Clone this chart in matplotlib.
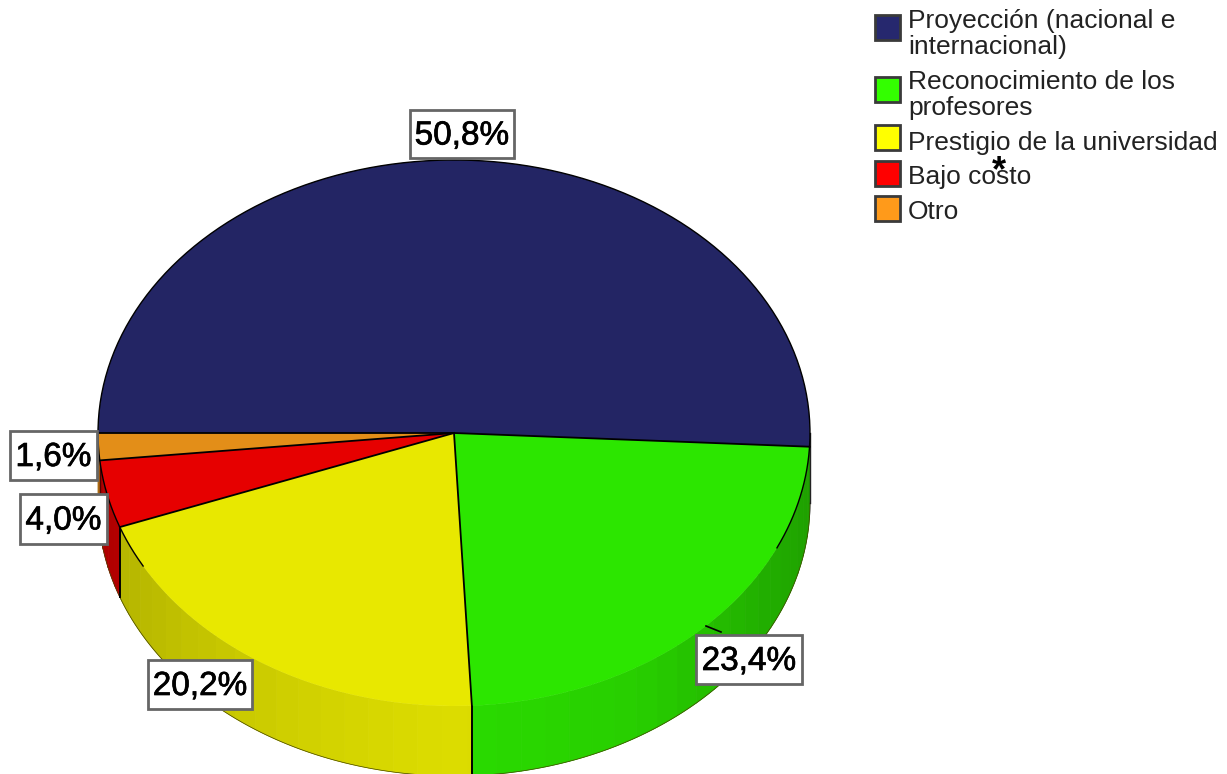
import numpy as np
import matplotlib
matplotlib.use("Agg")
import matplotlib.pyplot as plt
import matplotlib.patheffects as pe
from matplotlib.patches import Rectangle

plt.rcParams['font.family'] = ['Liberation Sans', 'DejaVu Sans']

categorias = ['Proyección (nacional e\ninternacional)', 'Reconocimiento de los\nprofesores',
              'Prestigio de la universidad', 'Bajo costo', 'Otro']
valores = [50.8, 23.4, 20.2, 4.0, 1.6]

colores = ['#232564', '#2ce600', '#e8e800', '#e60000', '#e38e18']
colores_leyenda = ['#26286e', '#33ff00', '#ffff00', '#ff0000', '#ff9a1a']

W, H = 1227, 774
CX, CY, RX, RY = 454, 433, 356, 273
DEPTH = 70 / RY

# cajas de las etiquetas en pixeles (x0, y0, x1, y1)
cajas = [(410, 110, 514, 158), (696, 635, 802, 684), (148, 660, 252, 709), (20, 494, 107, 544), (10, 431, 97, 480)]
pos_leyenda = [(887, 27), (887, 89), (887, 137), (887, 173), (887, 208)]
pos_texto = [(908, 9), (908, 70), (908, 131), (908, 165), (908, 200)]


def sombra(ang):
    # la pared es mas clara al frente (-90) y mas oscura hacia los lados
    return np.interp(ang, [-180, -150, -115, -90, -60, -30, 0], [0.74, 0.80, 0.90, 0.95, 0.90, 0.76, 0.68])


fig = plt.figure(figsize=(W / 100, H / 100), dpi=100)
ax = fig.add_axes([(CX - RX) / W, (H - CY - RY) / H, 2 * RX / W, 2 * RY / H])

limites = 180 - np.cumsum([0] + valores) * 3.6

# pared lateral
for i in range(len(valores)):
    fin, ini = limites[i], limites[i + 1]
    ini, fin = max(ini, -180), min(fin, 0)
    if fin <= ini:
        continue
    cortes = np.arange(ini, fin, 4.0)
    cortes = np.append(cortes, fin)
    base = np.array(matplotlib.colors.to_rgb(colores[i]))
    for a, b in zip(cortes[:-1], cortes[1:]):
        t = np.radians(np.linspace(a, b, 12))
        xs = np.r_[np.cos(t), np.cos(t)[::-1]]
        ys = np.r_[np.sin(t), np.sin(t)[::-1] - DEPTH]
        c = base * sombra((a + b) / 2)
        ax.fill(xs, ys, facecolor=c, edgecolor=c, lw=0.6, clip_on=False, zorder=1)
    t = np.radians(np.linspace(ini, fin, 60))
    ax.plot(np.cos(t), np.sin(t) - DEPTH, color='#444400', lw=0.5, clip_on=False, zorder=2)

# lineas verticales de la pared
for ang in limites[1:4]:
    r = np.radians(ang)
    if ang < -10:
        ax.plot([np.cos(r)] * 2, [np.sin(r), np.sin(r) - DEPTH], color='black', lw=1.4, clip_on=False, zorder=2)
ax.plot([1, 1], [0, -DEPTH], color='#222222', lw=1.0, clip_on=False, zorder=2)
r = np.radians(limites[4])
ax.plot([np.cos(r)] * 2, [np.sin(r), np.sin(r) - DEPTH], color='#550000', lw=1.0, clip_on=False, zorder=2)

# cara superior
wedges, _ = ax.pie(valores, colors=colores, startangle=180, counterclock=False, radius=1, frame=False,
                   wedgeprops={'linewidth': 0, 'zorder': 3})
ax.set_aspect('auto')
ax.set_xlim(-1, 1)
ax.set_ylim(-1, 1)
ax.axis('off')
for w in wedges:
    w.set_clip_on(False)

# radios y partes del borde que se ven en negro
for ang in limites[:5]:
    r = np.radians(ang)
    ax.plot([0, np.cos(r)], [0, np.sin(r)], color='black', lw=1.3, zorder=4, clip_on=False)
for a, b, lw in [(limites[1], 180, 1.0), (-180, limites[3], 1.0), (limites[3], limites[3] + 9, 1.0),
                 (limites[1] - 22, limites[1], 1.0)]:
    t = np.radians(np.linspace(a, b, 200))
    ax.plot(np.cos(t), np.sin(t), color='black', lw=lw, zorder=4, clip_on=False)

# capa en pixeles para etiquetas y leyenda
over = fig.add_axes([0, 0, 1, 1], zorder=5)
over.set_xlim(0, W)
over.set_ylim(H, 0)
over.axis('off')
over.patch.set_alpha(0)

over.plot([706, 721], [626, 632], color='black', lw=1.2)

for v, (x0, y0, x1, y1) in zip(valores, cajas):
    over.add_patch(Rectangle((x0, y0), x1 - x0, y1 - y0, facecolor='white', edgecolor='#666666', lw=2))
    over.text((x0 + x1) / 2, (y0 + y1) / 2 + 2, f'{v:.1f}%'.replace('.', ','), fontsize=24, ha='center', va='center',
              color='black', path_effects=[pe.withStroke(linewidth=0.5, foreground='black')])

for nombre, color, (x, y), (tx, ty) in zip(categorias, colores_leyenda, pos_leyenda, pos_texto):
    over.add_patch(Rectangle((x - 12, y - 12), 25, 25, facecolor=color, edgecolor='#3a3a3a', lw=2))
    over.text(tx, ty, nombre, fontsize=19, ha='left', va='top', color='#222222', linespacing=1.08)

over.text(999, 172, '*', fontsize=26, fontweight='bold', ha='center', va='center', color='black')

fig.savefig('out.png', dpi=100)
